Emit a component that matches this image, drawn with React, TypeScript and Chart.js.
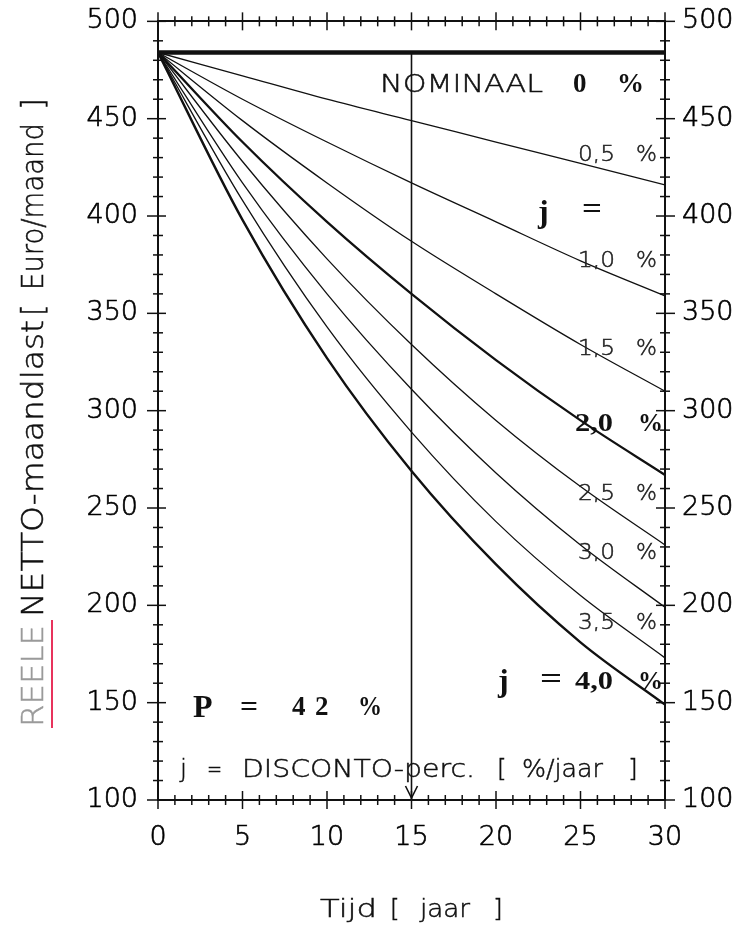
import React, { useEffect, useRef } from "react";
import { Chart, registerables } from "chart.js";
Chart.register(...registerables);

// ---- data ----
const years = [0, 5, 10, 15, 20, 25, 30];
const nominal0 = [484, 484, 484, 484, 484, 484, 484];
const j05 = [484, 472, 460, 449, 438, 427, 416];
const j10 = [484, 460, 438, 417, 397, 377, 359];
const j15 = [484, 449, 417, 387, 360, 334, 310];
const j20 = [484, 438, 397, 360, 326, 295, 267];
const j25 = [484, 428, 378, 334, 295, 261, 231];
const j30 = [484, 417, 360, 311, 268, 231, 199];
const j35 = [484, 408, 343, 289, 243, 205, 173];
const j40 = [484, 398, 327, 269, 221, 181, 149];
const seriesList = [nominal0, j05, j10, j15, j20, j25, j30, j35, j40];
const seriesWidths = [4.5, 1.3, 1.3, 1.3, 2.3, 1.3, 1.3, 1.3, 2.4];
const rateLabels = ["0,5", "1,0", "1,5", "2,0", "2,5", "3,0", "3,5", "4,0"];
const rateLabelValues = [431, 377, 331.5, 293, 257, 226.5, 190.6, 160.4];
const arrowYear = 15;
const arrowFrom = 484;
const arrowTo = 100;
const xMin = 0, xMax = 30, xStep = 5, xMinor = 1;
const yMin = 100, yMax = 500, yStep = 50, yMinor = 10;

const SANS = "'DejaVu Sans'";
const SERIF = "'Liberation Serif'";
const INK = "#111";

function drawFit(ctx: CanvasRenderingContext2D, text: string, x0: number, x1: number | null, y: number, font: string, color: string, baseline: CanvasTextBaseline = "middle", stroke = 0) {
  ctx.save();
  ctx.font = font;
  ctx.fillStyle = color;
  ctx.strokeStyle = color;
  ctx.textAlign = "left";
  ctx.textBaseline = baseline;
  ctx.translate(x0, y);
  if (x1 !== null) {
    const w = ctx.measureText(text).width;
    if (w > 0) ctx.scale((x1 - x0) / w, 1);
  }
  ctx.fillText(text, 0, 0);
  if (stroke > 0) {
    ctx.lineWidth = stroke;
    ctx.strokeText(text, 0, 0);
  }
  ctx.restore();
}

const decorPlugin = {
  id: "decor",
  afterDraw(chart: any) {
    const ctx: CanvasRenderingContext2D = chart.ctx;
    const xs = chart.scales.x;
    const ys = chart.scales.y;
    const { left, right, top, bottom } = chart.chartArea;
    const X = (v: number) => xs.getPixelForValue(v);
    const Y = (v: number) => ys.getPixelForValue(v);
    ctx.save();
    ctx.strokeStyle = INK;
    ctx.lineWidth = 1.5;
    const seg = (a: number, b: number, c: number, d: number) => {
      ctx.beginPath();
      ctx.moveTo(a, b);
      ctx.lineTo(c, d);
      ctx.stroke();
    };
    for (let v = xMin; v <= xMax; v += xMinor) {
      const px = X(v);
      const major = v % xStep === 0;
      const a = major ? 9 : 5;
      seg(px, bottom - a, px, bottom + a);
      seg(px, top - a, px, top + a);
    }
    for (let v = yMin; v <= yMax; v += yMinor) {
      const py = Y(v);
      const major = v % yStep === 0;
      if (major) {
        seg(left - 11, py, left + 8, py);
        seg(right - 9, py, right + 10, py);
      } else {
        seg(left - 5, py, left + 5, py);
        seg(right - 5, py, right + 5, py);
      }
    }
    const ax = X(arrowYear);
    const ay = Y(arrowTo);
    ctx.lineWidth = 1.6;
    ctx.beginPath();
    ctx.moveTo(ax - 6, ay - 14);
    ctx.lineTo(ax, ay - 2);
    ctx.lineTo(ax + 6, ay - 14);
    ctx.stroke();
    ctx.restore();

    const light = (s: number) => `200 ${s}px ${SANS}`;
    const bold = (s: number) => `bold ${s}px ${SERIF}`;
    const SW = 0.5;
    drawFit(ctx, "NOMINAAL", X(13.14), X(22.78), Y(467.2), light(25), INK, "middle", SW);
    drawFit(ctx, "0", X(24.56), null, Y(467.2), bold(27), INK);
    drawFit(ctx, "%", X(27.16), null, Y(467.2), bold(27), INK);

    rateLabels.forEach((lab, i) => {
      const yv = rateLabelValues[i];
      if (lab === "2,0" || lab === "4,0") {
        drawFit(ctx, lab, X(24.67), X(26.92), Y(yv), bold(25), INK);
        drawFit(ctx, "%", X(28.4), null, Y(yv), bold(25), INK);
      } else {
        drawFit(ctx, lab, X(24.85), X(27.04), Y(yv), light(22), "#222", "middle", SW);
        drawFit(ctx, "%", X(28.28), null, Y(yv), light(22), "#222", "middle", SW);
      }
    });
    drawFit(ctx, "j", X(22.49), null, Y(401.2), bold(32), INK);
    drawFit(ctx, "=", X(25.09), X(26.27), Y(403), bold(30), INK);
    drawFit(ctx, "j", X(20.12), null, Y(160.4), bold(32), INK);
    drawFit(ctx, "=", X(22.6), X(23.91), Y(161.5), bold(30), INK);
    drawFit(ctx, "P", X(2.07), null, Y(147.1), bold(32), INK);
    drawFit(ctx, "=", X(4.85), X(5.92), Y(147.1), bold(30), INK);
    drawFit(ctx, "4", X(7.93), null, Y(147.1), bold(27), INK);
    drawFit(ctx, "2", X(9.29), null, Y(147.1), bold(27), INK);
    drawFit(ctx, "%", X(11.83), X(13.25), Y(147.1), bold(27), INK);
    const dy = Y(114.9);
    drawFit(ctx, "j", X(1.3), null, dy, light(25), INK, "middle", SW);
    drawFit(ctx, "=", X(2.9), X(3.79), dy, light(25), INK, "middle", SW);
    drawFit(ctx, "DISCONTO-perc.", X(4.97), X(18.76), dy, light(25), INK, "middle", SW);
    drawFit(ctx, "[", X(20.06), null, dy, light(25), INK, "middle", SW);
    drawFit(ctx, "%/jaar", X(21.54), X(26.33), dy, light(25), INK, "middle", SW);
    drawFit(ctx, "]", X(27.81), null, dy, light(25), INK, "middle", SW);

    drawFit(ctx, "Tijd", 320, 377, 910, light(25), INK, "middle", SW);
    drawFit(ctx, "[", 390, null, 910, light(25), INK, "middle", SW);
    drawFit(ctx, "jaar", 420, 470, 910, light(25), INK, "middle", SW);
    drawFit(ctx, "]", 493, null, 910, light(25), INK, "middle", SW);

    const pieces: [string, number, number, string][] = [
      ["REELE", 727, 625, "#9a9a9a"],
      ["NETTO-maandlast", 617, 320, INK],
      ["[", 316, 298, INK],
      ["Euro/maand", 290, 123, INK],
      ["]", 110, 95, INK],
    ];
    pieces.forEach(([t, y0, y1, c]) => {
      ctx.save();
      ctx.translate(43, y0);
      ctx.rotate(-Math.PI / 2);
      drawFit(ctx, t, 0, t.length > 1 ? y0 - y1 : null, 0, light(30), c, "alphabetic", SW);
      ctx.restore();
    });
    ctx.save();
    ctx.strokeStyle = "#e8335c";
    ctx.lineWidth = 2;
    ctx.beginPath();
    ctx.moveTo(52, 620);
    ctx.lineTo(52, 728);
    ctx.stroke();
    ctx.restore();
  },
};

export default function App() {
  const ref = useRef<HTMLCanvasElement>(null);
  useEffect(() => {
    if (!ref.current) return;
    const tickFont = { family: "DejaVu Sans", size: 27, weight: "200" as any, lineHeight: 0.1 };
    const tickBase = { font: tickFont, color: "#000", textStrokeColor: "#000", textStrokeWidth: 0.6 };
    const datasets: any[] = seriesList.map((arr, i) => ({
      data: years.map((x, k) => ({ x, y: arr[k] })),
      borderColor: INK,
      borderWidth: seriesWidths[i],
      pointRadius: 0,
      cubicInterpolationMode: "monotone",
      fill: false,
    }));
    datasets.push({
      data: [
        { x: arrowYear, y: arrowFrom },
        { x: arrowYear, y: arrowTo },
      ],
      borderColor: INK,
      borderWidth: 1.6,
      pointRadius: 0,
      fill: false,
    });
    const chart = new Chart(ref.current, {
      type: "line",
      data: { datasets },
      options: {
        responsive: false,
        animation: false,
        devicePixelRatio: 1,
        layout: { padding: 0 },
        plugins: { legend: { display: false }, tooltip: { enabled: false } },
        scales: {
          x: {
            type: "linear",
            position: "bottom",
            min: xMin,
            max: xMax,
            ticks: { ...tickBase, stepSize: xStep, padding: 37, maxRotation: 0, autoSkip: false },
            grid: { display: false, drawTicks: false },
            border: { display: true, color: INK, width: 2 },
            afterFit: (s: any) => { s.height = 125; },
          },
          x2: {
            type: "linear",
            position: "top",
            min: xMin,
            max: xMax,
            ticks: { display: false },
            grid: { display: false, drawTicks: false },
            border: { display: true, color: INK, width: 2 },
            afterFit: (s: any) => { s.height = 19; },
          },
          y: {
            type: "linear",
            position: "left",
            min: yMin,
            max: yMax,
            ticks: { ...tickBase, stepSize: yStep, padding: 20 },
            grid: { display: false, drawTicks: false },
            border: { display: true, color: INK, width: 2 },
            afterFit: (s: any) => { s.width = 158; },
          },
          y2: {
            type: "linear",
            position: "right",
            min: yMin,
            max: yMax,
            ticks: { ...tickBase, stepSize: yStep, padding: 17 },
            grid: { display: false, drawTicks: false },
            border: { display: true, color: INK, width: 2 },
            afterFit: (s: any) => { s.width = 82; },
          },
        },
      } as any,
      plugins: [decorPlugin],
    });
    return () => chart.destroy();
  }, []);
  return (
    <div style={{ position: "absolute", left: 0, top: 0, width: 747, height: 925, background: "#fff" }}>
      <canvas ref={ref} width={747} height={925} style={{ display: "block" }} />
    </div>
  );
}
